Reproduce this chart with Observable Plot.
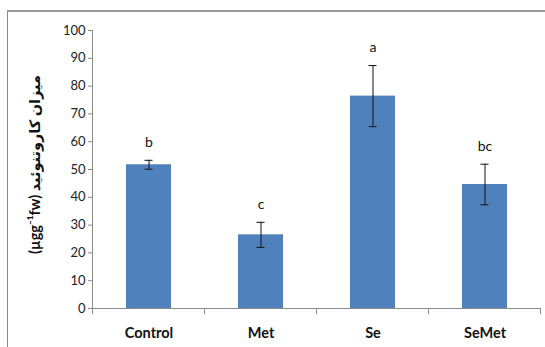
<!DOCTYPE html>
<html>
<head>
<meta charset="utf-8">
<script src="https://cdn.jsdelivr.net/npm/d3@7"></script>
<script src="https://cdn.jsdelivr.net/npm/@observablehq/plot@0.6"></script>
<style>
  html, body { margin: 0; padding: 0; background: #fff; }
  #wrap { position: relative; width: 545px; height: 347px; overflow: hidden; }
  #frame { position: absolute; left: 7px; top: 10px; right: -2px; bottom: -2px;
           border-top: 2px solid #9a9a9a; border-left: 1px solid #8a8a8a; pointer-events: none; }
</style>
</head>
<body>
<div id="wrap"><div id="frame"></div></div>
<script>
const categories = ["Control", "Met", "Se", "SeMet"];
const means = [51.7, 26.5, 76.4, 44.6];
const errors = [1.6, 4.5, 11.0, 7.3];
const letters = ["b", "c", "a", "bc"];
const yTicks = [0, 10, 20, 30, 40, 50, 60, 70, 80, 90, 100];
const yLabel = "(µgg⁻¹fw) میزان کاروتنوئید";

const data = categories.map((c, i) => ({
  cat: c, mean: means[i], lo: means[i] - errors[i], hi: means[i] + errors[i], letter: letters[i]
}));

const font = "Lato, 'DejaVu Sans', sans-serif";

const chart = Plot.plot({
  width: 545, height: 347,
  marginLeft: 92, marginRight: 4, marginTop: 30, marginBottom: 39,
  style: { fontFamily: font, background: "transparent", overflow: "visible" },
  x: { domain: categories, paddingInner: 0.6, paddingOuter: 0.3, axis: null },
  y: { domain: [0, 100], axis: null },
  marks: [
    Plot.barY(data, { x: "cat", y: "mean", fill: "#4F81BD" }),
    Plot.ruleX(data, { x: "cat", y1: "lo", y2: "hi", stroke: "#111", strokeWidth: 1 }),
    Plot.tickY(data, { x: "cat", y: "lo", stroke: "#111", insetLeft: 18.5, insetRight: 18.5 }),
    Plot.tickY(data, { x: "cat", y: "hi", stroke: "#111", insetLeft: 18.5, insetRight: 18.5 }),
    Plot.ruleY([0], { stroke: "#8a8a8a" }),
    Plot.frame({ anchor: "left", stroke: "#8a8a8a" }),
    Plot.axisY({ ticks: yTicks, tickSize: 4, tickPadding: 3, fontSize: 13, stroke: "#8a8a8a", fill: "#222", label: null }),
    Plot.axisX({ tickSize: 0, tickPadding: 19, fontSize: 14.5, fontWeight: "bold", fill: "#111", label: null }),
    Plot.text(data, { x: "cat", y: "hi", text: "letter", dy: -18, fontSize: 14, fill: "#111" }),
    Plot.text([yLabel], { frameAnchor: "left", textAnchor: "middle", rotate: -90, dx: -57, dy: -5, fontSize: 14.5, fontWeight: "bold", fill: "#111" })
  ]
});

document.getElementById("wrap").prepend(chart);

// boundary ticks between categories, from the x and y scales
const xs = chart.scale("x");
const ys = chart.scale("y");
const gap = xs.step - xs.bandwidth;
const bounds = categories.map(c => xs.apply(c) - gap / 2);
bounds.push(xs.apply(categories[categories.length - 1]) + xs.bandwidth + gap / 2);
const y0 = ys.apply(0);
d3.select(chart).append("g")
  .selectAll("line").data(bounds).join("line")
  .attr("x1", d => d).attr("x2", d => d)
  .attr("y1", y0).attr("y2", y0 + 6)
  .attr("stroke", "#8a8a8a");
</script>
</body>
</html>
